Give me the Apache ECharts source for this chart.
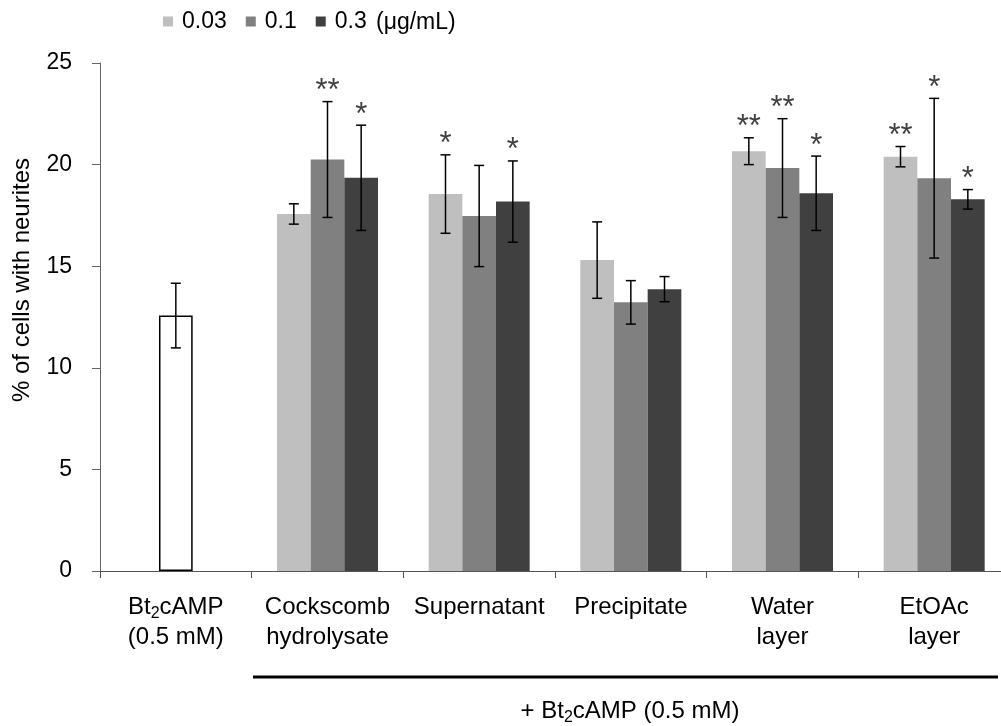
<!DOCTYPE html>
<html>
<head>
<meta charset="utf-8">
<script src="https://cdn.jsdelivr.net/npm/echarts@6/dist/echarts.min.js"></script>
<style>
  html, body { margin: 0; padding: 0; background: #fff; }
  #main { width: 1001px; height: 726px; }
</style>
</head>
<body>
<div id="main"></div>
<script>
const categories = [
  "Bt{sub|2}cAMP\n(0.5 mM)",
  "Cockscomb\nhydrolysate",
  "Supernatant",
  "Precipitate",
  "Water\nlayer",
  "EtOAc\nlayer",
];
const doses = ["0.03", "0.1", "0.3"];
const yTicks = [0, 5, 10, 15, 20, 25];

// control bar (Bt2cAMP alone) sits in the first category
const controlMean = 12.57;
const controlSd = 1.59;

const mean003 = [null, 17.57, 18.55, 15.3, 20.66, 20.39];
const sd003 = [null, 0.5, 1.93, 1.88, 0.66, 0.5];
const mean01 = [null, 20.25, 17.47, 13.22, 19.83, 19.33];
const sd01 = [null, 2.85, 2.49, 1.07, 2.43, 3.93];
const mean03 = [null, 19.35, 18.18, 13.87, 18.59, 18.29];
const sd03 = [null, 2.59, 2.0, 0.62, 1.83, 0.48];

const stars003 = ["", "", "*", "", "**", "**"];
const stars01 = ["", "**", "", "", "**", "*"];
const stars03 = ["", "*", "*", "", "*", "*"];

const colors = ["#bfbfbf", "#808080", "#404040"];
const FONT = "'Liberation Sans', Arial, sans-serif";
const catGap = 0.334;

const means = [mean003, mean01, mean03];
const sds = [sd003, sd01, sd03];
const stars = [stars003, stars01, stars03];

// error bar items: [category, slot, mean, sd]
const errItems = [];
const errStars = [];
errItems.push([0, 1, controlMean, controlSd]);
errStars.push("");
for (let s = 0; s < 3; s++) {
  for (let i = 0; i < categories.length; i++) {
    if (means[s][i] == null) continue;
    errItems.push([i, s, means[s][i], sds[s][i]]);
    errStars.push(stars[s][i]);
  }
}

const barSeries = doses.map((d, s) => {
  const data = means[s].slice();
  if (s === 1) {
    data[0] = {
      value: controlMean,
      itemStyle: { color: "#fff", borderColor: "#000", borderWidth: 1.5 },
    };
  }
  return {
    name: d,
    type: "bar",
    data,
    barGap: "0%",
    barCategoryGap: catGap * 100 + "%",
    itemStyle: { color: colors[s] },
    z: 2,
  };
});

var myChart = echarts.init(document.getElementById("main"));

const option = {
  animation: false,
  textStyle: { fontFamily: FONT },
  grid: { left: 100, top: 63, bottom: 155, width: 910, outerBoundsMode: "none" },
  legend: {
    data: doses,
    left: 163,
    top: 10,
    padding: 0,
    icon: "rect",
    itemWidth: 10,
    itemHeight: 10,
    itemGap: 19,
    textStyle: { fontSize: 23, color: "#000", fontFamily: FONT, padding: [0, 0, 0, 4] },
  },
  xAxis: {
    type: "category",
    data: categories,
    axisLine: { lineStyle: { color: "#555", width: 1 } },
    axisTick: { show: true, length: 7, lineStyle: { color: "#555" } },
    axisLabel: {
      fontSize: 24,
      lineHeight: 30,
      color: "#000",
      margin: 21,
      interval: 0,
      fontFamily: FONT,
      rich: {
        sub: { fontSize: 16, lineHeight: 14, verticalAlign: "bottom", fontFamily: FONT, color: "#000" },
      },
    },
  },
  yAxis: {
    type: "value",
    min: yTicks[0],
    max: yTicks[yTicks.length - 1],
    interval: 5,
    splitLine: { show: false },
    axisLine: { show: true, lineStyle: { color: "#666", width: 1 } },
    axisTick: { show: true, length: 8, lineStyle: { color: "#666" } },
    axisLabel: { fontSize: 23, color: "#000", margin: 28, fontFamily: FONT },
  },
  series: [
    ...barSeries,
    {
      type: "custom",
      z: 5,
      data: errItems,
      renderItem: (params, api) => {
        const cat = api.value(0);
        const slot = api.value(1);
        const m = api.value(2);
        const sd = api.value(3);
        const band = api.size([1, 0])[0];
        const barW = (band * (1 - catGap)) / 3;
        const cx = api.coord([cat, 0])[0] + (slot - 1) * barW;
        const yTop = api.coord([cat, m + sd])[1];
        const yBot = api.coord([cat, m - sd])[1];
        const cap = 5;
        const st = { stroke: "#000", lineWidth: 1.5 };
        const children = [
          { type: "line", shape: { x1: cx, y1: yTop, x2: cx, y2: yBot }, style: st },
          { type: "line", shape: { x1: cx - cap, y1: yTop, x2: cx + cap, y2: yTop }, style: st },
          { type: "line", shape: { x1: cx - cap, y1: yBot, x2: cx + cap, y2: yBot }, style: st },
        ];
        const star = errStars[params.dataIndex];
        if (star) {
          children.push({
            type: "text",
            style: {
              text: star,
              x: cx,
              y: yTop - 10,
              align: "center",
              verticalAlign: "middle",
              fontSize: 31,
              fontFamily: FONT,
              fill: "#404040",
            },
          });
        }
        return { type: "group", children };
      },
    },
  ],
  graphic: [
    {
      type: "text",
      x: 376,
      y: 23,
      style: {
        text: "(\u03bcg/mL)",
        fontSize: 23,
        fontFamily: FONT,
        fill: "#000",
        verticalAlign: "middle",
      },
    },
    {
      type: "text",
      x: 22,
      y: 280,
      rotation: Math.PI / 2,
      style: {
        text: "% of cells with neurites",
        fontSize: 24,
        fontFamily: FONT,
        fill: "#000",
        align: "center",
        verticalAlign: "middle",
      },
    },
    {
      type: "line",
      shape: { x1: 253, y1: 677, x2: 998, y2: 677 },
      style: { stroke: "#000", lineWidth: 3 },
    },
    {
      type: "text",
      x: 630,
      y: 711,
      style: {
        text: "+ Bt{sub|2}cAMP (0.5 mM)",
        fontSize: 24,
        fontFamily: FONT,
        fill: "#000",
        align: "center",
        verticalAlign: "middle",
        lineHeight: 30,
        rich: {
          sub: { fontSize: 16, lineHeight: 14, verticalAlign: "bottom", fontFamily: FONT, fill: "#000" },
        },
      },
    },
  ],
};

option && myChart.setOption(option);
</script>
</body>
</html>
